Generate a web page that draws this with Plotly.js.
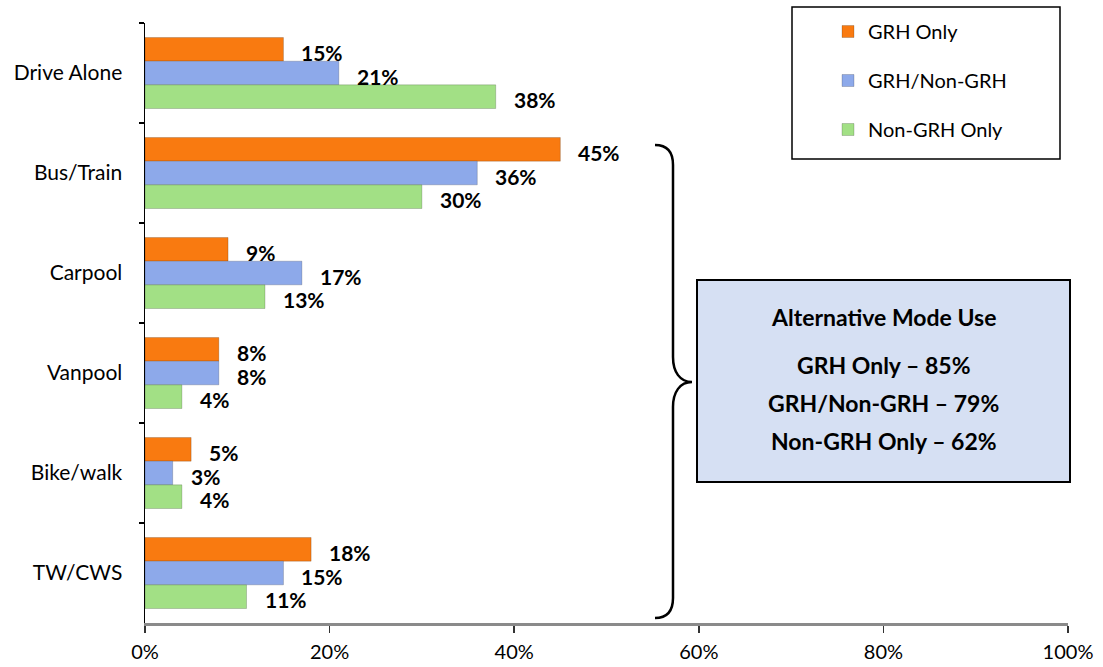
<!DOCTYPE html>
<html>
<head>
<meta charset="utf-8">
<script src="https://cdn.plot.ly/plotly-3.0.1.min.js"></script>
<style>html,body{margin:0;padding:0;background:#fff;}#chart{width:1103px;height:667px;}</style>
</head>
<body>
<div id="chart"></div>
<script>
const categories = ['Drive Alone', 'Bus/Train', 'Carpool', 'Vanpool', 'Bike/walk', 'TW/CWS'];
const seriesNames = ['GRH Only', 'GRH/Non-GRH', 'Non-GRH Only'];
const grhOnly = [15, 45, 9, 8, 5, 18];
const grhNonGrh = [21, 36, 17, 8, 3, 15];
const nonGrhOnly = [38, 30, 13, 4, 4, 11];
const xTickValues = [0, 20, 40, 60, 80, 100];
const xTickLabels = ['0%', '20%', '40%', '60%', '80%', '100%'];
const summaryTitle = 'Alternative Mode Use';
const summaryLines = ['GRH Only – 85%', 'GRH/Non-GRH – 79%', 'Non-GRH Only – 62%'];

const seriesValues = [grhOnly, grhNonGrh, nonGrhOnly];
const seriesColors = ['#F97A10', '#8DA9EA', '#A2E085'];

const W = 1103, H = 667;
const M = {l: 145, r: 35, t: 23, b: 44};
const PW = W - M.l - M.r, PH = H - M.t - M.b;
const X = px => (px - M.l) / PW;
const Y = py => (H - M.b - py) / PH;

const bargap = 0.29;
const barW = (1 - bargap) / seriesValues.length;

const traces = seriesValues.map((vals, s) => ({
  type: 'bar',
  orientation: 'h',
  name: seriesNames[s],
  y: categories,
  x: vals,
  legendgroup: 'g' + s,
  marker: {color: seriesColors[s], line: {color: 'rgba(0,0,0,0.18)', width: 1}},
  hoverinfo: 'skip'
}));

const annotations = [];
seriesValues.forEach((vals, s) => {
  vals.forEach((v, i) => {
    annotations.push({
      x: v, y: i + (s - 1) * barW, xref: 'x', yref: 'y',
      text: v + '%', showarrow: false, xanchor: 'left', yanchor: 'middle',
      xshift: 16, yshift: -3,
      font: {family: 'Lato', size: 21, color: '#000', weight: 'bold'}
    });
  });
});
annotations.push({
  x: X(883.5), y: Y(317), xref: 'paper', yref: 'paper', showarrow: false,
  text: '<b>' + summaryTitle + '</b>', xanchor: 'center', yanchor: 'middle',
  font: {family: 'Lato', size: 23, color: '#000'}
});
const lineYs = [365, 403, 441];
summaryLines.forEach((t, k) => {
  annotations.push({
    x: X(883.5), y: Y(lineYs[k]), xref: 'paper', yref: 'paper', showarrow: false,
    text: '<b>' + t + '</b>', xanchor: 'center', yanchor: 'middle',
    font: {family: 'Lato', size: 23, color: '#000'}
  });
});

const P = (x, y) => X(x).toFixed(5) + ',' + Y(y).toFixed(5);
const bracePath = 'M' + P(655, 145) +
  ' C' + P(667, 145) + ' ' + P(673, 152) + ' ' + P(673, 165) +
  ' L' + P(673, 357) +
  ' C' + P(673, 372) + ' ' + P(680, 382) + ' ' + P(692, 382) +
  ' C' + P(680, 382) + ' ' + P(673, 392) + ' ' + P(673, 407) +
  ' L' + P(673, 598) +
  ' C' + P(673, 611) + ' ' + P(667, 618) + ' ' + P(655, 618);

const shapes = [
  {type: 'rect', xref: 'paper', yref: 'paper', x0: X(792), x1: X(1060), y0: Y(159), y1: Y(7),
   line: {color: '#000', width: 1.5}, fillcolor: 'rgba(0,0,0,0)'},
  {type: 'rect', xref: 'paper', yref: 'paper', x0: X(697), x1: X(1070), y0: Y(482), y1: Y(280),
   line: {color: '#000', width: 2}, fillcolor: '#D6E0F3'},
  {type: 'path', xref: 'paper', yref: 'paper', path: bracePath,
   line: {color: '#000', width: 2.5}}
];

const layout = {
  width: W, height: H,
  margin: M,
  paper_bgcolor: '#fff', plot_bgcolor: '#fff',
  barmode: 'group', bargap: bargap, bargroupgap: 0,
  showlegend: true,
  legend: {
    x: X(828), y: Y(12), xanchor: 'left', yanchor: 'top',
    xref: 'paper', yref: 'paper',
    bgcolor: 'rgba(0,0,0,0)', borderwidth: 0,
    tracegroupgap: 20, traceorder: 'grouped',
    font: {family: 'Lato', size: 20, color: '#000'}
  },
  xaxis: {
    range: [0, 100], tickmode: 'array', tickvals: xTickValues, ticktext: xTickLabels,
    showgrid: false, zeroline: false,
    showline: true, linecolor: '#8a8a8a', linewidth: 3,
    ticks: 'outside', ticklen: 7, tickcolor: '#333', tickwidth: 1.5,
    ticklabelstandoff: 2,
    tickfont: {family: 'Lato', size: 20, color: '#000'},
    fixedrange: true
  },
  yaxis: {
    type: 'category', autorange: 'reversed',
    showgrid: false, zeroline: false,
    showline: true, linecolor: '#000', linewidth: 1.5,
    ticks: 'outside', ticklen: 5, tickcolor: '#000', tickwidth: 1.5,
    tickson: 'boundaries', ticklabelstandoff: 17,
    tickfont: {family: 'Lato', size: 21, color: '#000'},
    fixedrange: true
  },
  annotations: annotations,
  shapes: shapes,
  hovermode: false
};

Plotly.newPlot('chart', traces, layout, {staticPlot: true, displayModeBar: false});
</script>
</body>
</html>
